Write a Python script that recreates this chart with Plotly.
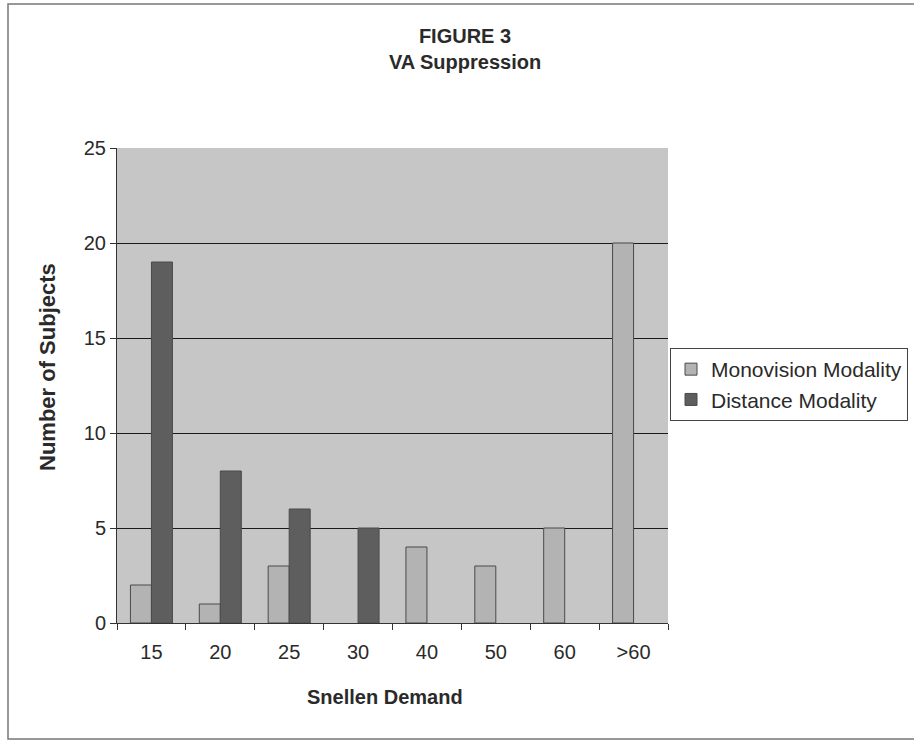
import plotly.graph_objects as go

categories = ["15", "20", "25", "30", "40", "50", "60", ">60"]
monovision = [2, 1, 3, 0, 4, 3, 5, 20]
distance = [19, 8, 6, 5, 0, 0, 0, 0]
y_ticks = [0, 5, 10, 15, 20, 25]

FONT = "Liberation Sans, Arial, sans-serif"


def nz(values):
    return [v if v else None for v in values]


fig = go.Figure()
fig.add_trace(go.Bar(
    name="Monovision Modality", x=categories, y=nz(monovision),
    marker=dict(color="#b3b3b3", line=dict(color="#4a4a4a", width=1)),
))
fig.add_trace(go.Bar(
    name="Distance Modality", x=categories, y=nz(distance),
    marker=dict(color="#5e5e5e", line=dict(color="#4a4a4a", width=1)),
))

L, R, T, B = 117, 914 - 668, 148, 742 - 623
PW, PH = 914 - L - R, 742 - T - B


def px(x):
    return (x - L) / PW


def py(y):
    return (742 - B - y) / PH


fig.update_layout(
    width=914, height=742,
    margin=dict(l=L, r=R, t=T, b=B, pad=0, autoexpand=False),
    paper_bgcolor="white",
    plot_bgcolor="#c6c6c6",
    barmode="group", bargap=0.39, bargroupgap=0,
    font=dict(family=FONT, size=20, color="#2a2a2a"),
    title=dict(text="<b>FIGURE 3</b><br><b>VA Suppression</b>",
               x=465 / 914, xanchor="center", xref="container",
               y=1 - 43 / 742, yanchor="top", yref="container",
               font=dict(size=20, color="#2a2a2a")),
    showlegend=True,
    legend=dict(x=px(670), xanchor="left", y=py(348), yanchor="top",
                bgcolor="white", bordercolor="#444", borderwidth=1,
                font=dict(size=21, color="#2a2a2a"), tracegroupgap=0),
    xaxis=dict(showline=True, linecolor="#333", linewidth=1,
               ticks="outside", tickson="boundaries", ticklen=6, tickcolor="#333",
               ticklabelstandoff=11, showgrid=False),
    yaxis=dict(range=[0, 25], tickvals=y_ticks, showline=True, linecolor="#333", linewidth=1,
               ticks="outside", ticklen=6, tickcolor="#333",
               showgrid=True, gridcolor="#1a1a1a", gridwidth=1, zeroline=False),
)

fig.add_annotation(text="<b>Snellen Demand</b>", xref="paper", yref="paper",
                   x=px(385), y=py(697), xanchor="center", yanchor="middle",
                   showarrow=False, font=dict(size=20))
fig.add_annotation(text="<b>Number of Subjects</b>", xref="paper", yref="paper",
                   x=px(47), y=py(367), xanchor="center", yanchor="middle",
                   showarrow=False, textangle=-90, font=dict(size=22))

fig.add_shape(type="rect", xref="paper", yref="paper",
              x0=px(8), x1=px(930), y0=py(739), y1=py(4),
              line=dict(color="#777", width=1.5), layer="below")

fig.write_html("out.html")
